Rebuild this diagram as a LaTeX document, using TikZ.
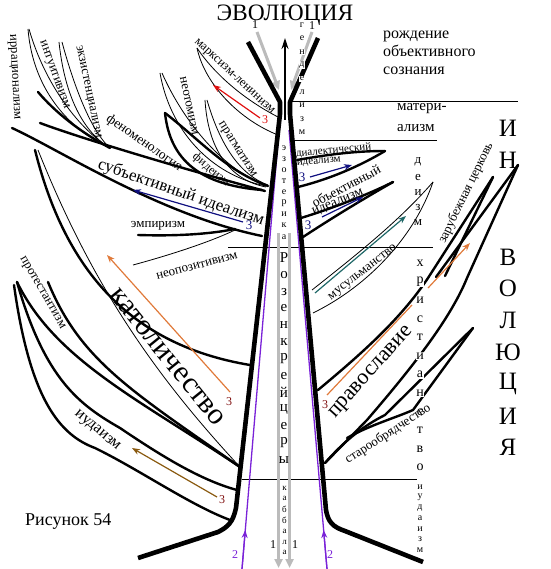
\documentclass[tikz,border=0pt]{standalone}
\usepackage{fontspec}
\setmainfont{Liberation Serif}
\usetikzlibrary{arrows.meta}
\definecolor{vio}{HTML}{7A22D8}
\definecolor{ored}{HTML}{E01010}
\definecolor{nblue}{HTML}{101080}
\definecolor{oran}{HTML}{E07A3A}
\definecolor{brwn}{HTML}{8A5A10}
\definecolor{teal2}{HTML}{206868}
\definecolor{dred}{HTML}{801010}
\definecolor{gr}{HTML}{BBBBBB}
\newcommand\vst[6]{\foreach \ch [count=\i from 0] in {#6} \node[inner sep=0pt, font=\fontsize{#4}{#4}\selectfont, name=#5\i] at ({#1},{#2+#3*\i}) {\ch};}
\newcommand\vstw[6]{\foreach \ch [count=\i from 0] in {#6} \node[inner sep=0.6pt, fill=white, font=\fontsize{#4}{#4}\selectfont, name=#5\i] at ({#1},{#2+#3*\i}) {\ch};}
\tikzset{
  trunk/.style={line width=4.6pt, line join=round},
  thk/.style={line width=2.4pt, line cap=round},
  thn/.style={line width=0.8pt},
  fs/.style={font=\fontsize{#1}{#1}\selectfont, inner sep=0pt},
  arr/.style={line width=1.2pt, -{Stealth[length=8pt,width=6pt]}},
  gbar/.style={line width=3.5pt, color=gr, -{Triangle[length=9pt,width=8pt]}},
  garr/.style={line width=3pt, color=gr, -{Triangle[length=9pt,width=8pt]}},
}
\begin{document}
\begin{tikzpicture}[x=1pt,y=-1pt]
\useasboundingbox (0,0) rectangle (550,569);
% horizontal lines
\draw[thn] (290,101) -- (518,101);
\draw[thn] (290,140) -- (437,140);
\draw[thn] (228,247) -- (433,247);
\draw[thn] (242,479) -- (417,479);
% gray arrows
\draw[garr] (257,32) -- (279,90);
\draw[garr] (312,32) -- (291,90);
\draw[gbar] (278.5,233) -- (278.5,568);
\draw[gbar] (289.5,233) -- (289.5,568);
% purple lines
\draw[vio, line width=1.3pt] (242,569) -- (279,130);
\draw[vio, line width=1.3pt] (327,569) -- (289,130);
\draw[vio, arr] (242,569) -- (245.3,530);
\draw[vio, arr] (327,569) -- (323.6,530);
% black arrow
\draw[line width=1.4pt, -{Stealth[length=11pt,width=7pt]}] (285,120) -- (285,38);
% trunks
\draw[trunk] (248,42) -- (280,102) -- (280,114) -- (236,508) .. controls (233,522) and (228,527) .. (218,532) -- (138,558);
\draw[trunk] (318,38) -- (290,102) -- (290,114) -- (326,510) .. controls (328,522) and (333,527) .. (345,531) -- (423,562);

% ---------- left branches ----------
\draw[thn] (28,29) .. controls (32,80) and (60,125) .. (110,148);
\draw[thn] (29,29) .. controls (45,85) and (80,130) .. (110,148);
\draw[thn] (59,42) .. controls (64,90) and (80,130) .. (110,148);
\draw[thn] (62,42) .. controls (75,90) and (92,132) .. (110,148);
\draw[thk] (38,92) .. controls (55,112) and (80,132) .. (110,148);
\draw[thk] (40,123) .. controls (80,138) and (180,168) .. (265,191);
\draw[thk] (12,128) .. controls (60,150) and (160,215) .. (262,236);
% marxism
\draw[thn] (197,48) .. controls (215,75) and (245,100) .. (278,117);
\draw[thn] (197,48) .. controls (205,85) and (240,120) .. (278,135);
% neothomism
\draw[thn] (160,73) .. controls (170,130) and (210,175) .. (266,186);
\draw[thn] (162,73) .. controls (185,125) and (225,170) .. (266,186);
% pragmatism
\draw[thn] (205,100) .. controls (208,150) and (230,180) .. (266,187);
\draw[thn] (207,100) .. controls (220,145) and (240,175) .. (268,185);
% fideism
\draw[thk] (165,113) .. controls (200,140) and (225,170) .. (268,186);
\draw[thk] (165,113) .. controls (170,160) and (200,185) .. (262,190);
% empirism, neopositivism
\draw[thk] (138,235) .. controls (170,236) and (205,235) .. (235,229);
\draw[thn] (133,265) .. controls (170,255) and (210,242) .. (235,230);
% catholicism etc.
\draw[thk] (35,150) .. controls (65,270) and (130,345) .. (250,365);
\draw[thn] (38,150) .. controls (90,280) and (150,370) .. (240,467);
\draw[thk] (48,282) .. controls (80,360) and (130,390) .. (240,467);
\draw[thk] (17,282) .. controls (55,360) and (140,400) .. (240,467);
\draw[thk] (17,282) .. controls (45,380) and (80,405) .. (120,428) .. controls (160,455) and (200,480) .. (237,490);
\draw[thk] (14,285) .. controls (30,400) and (60,435) .. (95,448) .. controls (140,470) and (190,505) .. (230,520);

% ---------- right branches ----------
\draw[thk] (297,160) .. controls (320,156) and (350,151) .. (385,151);
\draw[thk] (298,187) .. controls (330,179) and (360,166) .. (385,151);
\draw[thk] (301,218) .. controls (330,209) and (365,196) .. (393,182);
\draw[thk] (303,237) .. controls (335,216) and (365,198) .. (393,182);
\draw[thn] (312,290) .. controls (360,252) and (400,220) .. (433,182);
\draw[thn] (313,313) .. controls (370,285) and (415,235) .. (433,182);
\draw[thk] (318,390) .. controls (360,355) and (400,320) .. (428,278) -- (493,177);
\draw[thk] (445,276) -- (493,177);
\draw[thk] (436,277) -- (518,165);
\draw[thk] (325,463) -- (367,420) .. controls (410,370) and (450,320) .. (467,278) -- (518,165);
\draw[thk] (325,463) .. controls (345,440) and (365,425) .. (385,415) -- (473,328);
\draw[thk] (347,438) .. controls (370,425) and (395,418) .. (413,410) -- (473,328);

% ---------- coloured arrows ----------
\draw[ored, arr] (260,118) -- (213,85);
\node[fs=12, text=ored] (r3) at (265,120) {3};
\draw[nblue, arr] (243,222) -- (133,190);
\node[fs=13, text=nblue] (b3) at (249,225) {3};
\draw[nblue, arr] (310,177) -- (352,165);
\node[fs=13, text=nblue] (b3a) at (302,177) {3};
\draw[nblue, arr] (322,217) -- (363,197);
\node[fs=13, text=nblue] (b3b) at (308,225) {3};
\draw[teal2, arr] (315,293) -- (406,216);
\draw[oran, arr] (230,392) -- (107,255);
\node[fs=12, text=dred] (o3) at (229,402) {3};
\draw[oran, line width=1.2pt] (327,395) -- (412,305);
\draw[oran, arr] (428,288) -- (470,243);
\node[fs=12, text=dred] (o3b) at (325,405) {3};
\draw[brwn, arr] (217,497) -- (132,448);
\node[fs=12, text=dred] (br3) at (222,500) {3};
\node[fs=12, text=vio] (p2a) at (235,555) {2};
\node[fs=12, text=vio] (p2b) at (330,555) {2};
\node[fs=12] (g1a) at (255,25) {1};
\node[fs=12] (g1b) at (312,26) {1};
\node[fs=12] (g1c) at (273,545) {1};
\node[fs=12] (g1d) at (295,545) {1};

% ---------- texts ----------
\node[fs=23.5, anchor=base] (title) at (285,21) {ЭВОЛЮЦИЯ};
\node[font=\fontsize{16}{18}\selectfont, inner sep=0pt, align=left, anchor=north west] (rozh) at (383,31) {рождение\\объективного\\сознания};
\node[font=\fontsize{15}{21}\selectfont, inner sep=0pt, align=left, anchor=north west] (mat) at (397,103) {матери-\\ализм};
\vst{508}{128}{32}{25}{inv}{И,Н}
\vst{508}{257}{31.8}{25}{vol}{В,О,Л,Ю,Ц,И,Я}
\vstw{302}{25}{13.4}{10}{gen}{г,е,н,д,е,л,и,з,м}
\vst{284}{148}{11.1}{10}{ezo}{э,з,о,т,е,р,и,к,а}
\vst{284}{258}{16.8}{15}{roz}{Р,о,з,е,н,к,р,е,й,ц,е,р,ы}
\vst{284.5}{488}{10.8}{9}{kab}{к,а,б,б,а,л,а}
\vst{418}{162}{15.2}{13}{dei}{д,е,и,з,м}
\vstw{420}{263}{18.6}{14}{hri}{х,р,и,с,т,и,а,н,с,т,в,о}
\vst{420}{487}{10.5}{10}{iud}{и,у,д,а,и,з,м}

\node[fs=13, rotate=-87] (irr) at (14,77) {иррационализм};
\node[fs=13, rotate=-70] (int) at (54,75) {интуитивизм};
\node[fs=13, rotate=-78] (ekz) at (88,92) {экзистенциализм};
\node[fs=12.5, rotate=-43] (marx) at (234,77) {марксизм-ленинизм};
\node[fs=13, rotate=-78] (neot) at (189,106) {неотомизм};
\node[fs=13, rotate=-58] (prag) at (237,150) {прагматизм};
\node[fs=12, rotate=-40] (fid) at (211,170) {фидеизм};
\node[fs=13.5, rotate=-35] (fen) at (144,143) {феноменология};
\node[fs=17, rotate=-19] (subj) at (181,193) {субъективный идеализм};
\node[fs=13] (emp) at (158,226) {эмпиризм};
\node[fs=13, rotate=15] (neop) at (197,266) {неопозитивизм};
\node[fs=13, rotate=-60] (prot) at (42,293) {протестантизм};
\node[fs=30, rotate=-51] (kat) at (167,357) {католичество};
\node[fs=16, rotate=-40] (iuda) at (97,431) {иудаизм};
\node[fs=18, anchor=west] (fig) at (25,522) {Рисунок 54};

\node[fs=11, align=left, rotate=5] (dial) at (334,155) {диалектический\\[-2pt]идеализм};
\node[fs=13.5, rotate=28] (obj1) at (346,186) {объективный};
\node[fs=13.5, rotate=22] (obj2) at (338,203) {идеализм};
\node[fs=13, rotate=38] (mus) at (363,273) {мусульманство};
\node[fs=13, rotate=64] (zar) at (466,193) {зарубежная церковь};
\node[fs=22, rotate=48] (prav) at (372,373) {православие};
\node[fs=13, rotate=33] (star) at (388,434) {старообрядчество};
\end{tikzpicture}
\end{document}
